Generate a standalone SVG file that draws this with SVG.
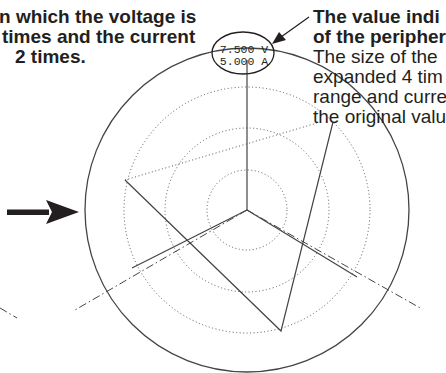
<svg xmlns="http://www.w3.org/2000/svg" width="446" height="373" viewBox="0 0 446 373">
<style>
.bt{font-family:"Liberation Sans",Arial,Helvetica,sans-serif;font-size:19px;font-weight:bold;fill:#231f20}
.rt{font-family:"Liberation Sans",Arial,Helvetica,sans-serif;font-size:19px;fill:#231f20}
.mono{font-family:"Liberation Mono","DejaVu Sans Mono",monospace;font-size:11.5px;fill:#231f20}
.dot{fill:none;stroke:#555;stroke-width:1;stroke-dasharray:1 2.5}
.dd{fill:none;stroke:#444;stroke-width:1;stroke-dasharray:8 3 1.5 3}
.sol{fill:none;stroke:#444;stroke-width:1.2}
</style>
<rect width="446" height="373" fill="#fff"/>
<g id="grid">
<circle class="dot" cx="247" cy="210" r="40"/>
<circle class="dot" cx="247" cy="210" r="82"/>
<circle class="dot" cx="247" cy="210" r="123"/>
<circle cx="247" cy="210" r="162" fill="none" stroke="#444" stroke-width="1.3"/>
</g>
<g id="connectors">
<line class="dd" x1="247" y1="210" x2="75" y2="310"/>
<line class="dd" x1="247" y1="210" x2="422" y2="309"/>
<line class="dd" x1="0" y1="308" x2="17" y2="318"/>
<line class="sol" x1="247" y1="210" x2="247" y2="60"/>
<line class="sol" x1="247" y1="210" x2="132" y2="268"/>
<line class="sol" x1="247" y1="210" x2="357" y2="277"/>
<line class="dot" x1="125" y1="180" x2="317" y2="123"/>
<polyline class="sol" points="125,180 281,331 333,122"/>
<line x1="309" y1="17" x2="281" y2="37" stroke="#231f20" stroke-width="1.2"/>
<polygon points="272,44 279,32 286,40" fill="#231f20"/>
</g>
<g id="display">
<ellipse cx="243" cy="53" rx="31" ry="21" fill="none" stroke="#231f20" stroke-width="1.3"/>
<text class="mono" x="244" y="53" text-anchor="middle">7.500 V</text>
<text class="mono" x="244" y="65" text-anchor="middle">5.000 A</text>
</g>
<g id="arrow">
<rect x="7" y="209.5" width="42" height="5.5" fill="#231f20"/>
<polygon points="79,212 46,200 52,212 46,224" fill="#231f20"/>
</g>
<g id="left-text">
<text class="bt" x="-1" y="23">n which the voltage is</text>
<text class="bt" x="2" y="43">times and the current</text>
<text class="bt" x="15" y="63">2 times.</text>
</g>
<g id="right-text">
<text class="bt" x="313" y="23">The value indi</text>
<text class="bt" x="313" y="43">of the peripher</text>
<text class="rt" x="313" y="63">The size of the</text>
<text class="rt" x="313" y="83">expanded 4 tim</text>
<text class="rt" x="313" y="103">range and curre</text>
<text class="rt" x="313" y="123">the original valu</text>
</g>
</svg>
